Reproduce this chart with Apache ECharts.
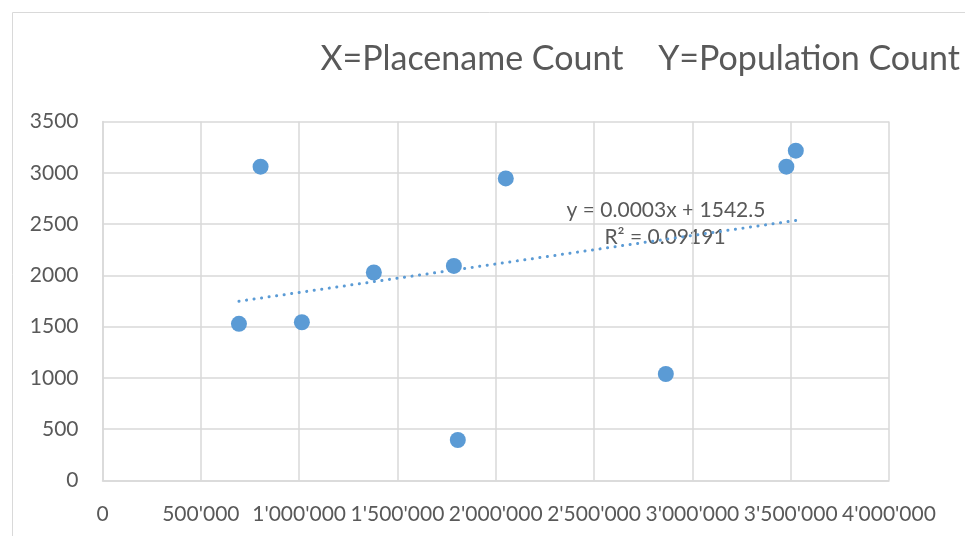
<!DOCTYPE html>
<html>
<head>
<meta charset="utf-8">
<script src="https://cdn.jsdelivr.net/npm/echarts@6/dist/echarts.min.js"></script>
<style>
  html, body { margin: 0; padding: 0; background: #fff; }
  #chart { width: 965px; height: 536px; }
</style>
</head>
<body>
<div id="chart"></div>
<script>
// placename count (x) vs population count (y)
const placenameCount = [694000, 804000, 1014000, 1380000, 1787000, 1807000, 2051000, 2865000, 3478000, 3526000]
const populationCount = [1527, 3060, 1543, 2028, 2092, 395, 2945, 1038, 3060, 3216]
// linear trendline endpoints as drawn
const trendX = [694000, 3526000]
const trendY = [1748, 2535]
const titleText = 'X=Placename Count    Y=Population Count'
const eqText = 'y = 0.0003x + 1542.5'
const r2Text = 'R² = 0.09191'

const grey = '#595959'
const gridColor = '#d9d9d9'
const blue = '#5B9BD5'

function fmtThousands(v) {
  return String(v).replace(/\B(?=(\d{3})+(?!\d))/g, "'")
}

const chart = echarts.init(document.getElementById('chart'))
chart.setOption({
  animation: false,
  textStyle: { fontFamily: 'Lato' },
  grid: { left: 102.5, top: 121.5, right: 76, bottom: 55.5 },
  title: {
    text: titleText,
    right: 0,
    top: 37,
    textStyle: { fontFamily: 'Lato', fontSize: 34, fontWeight: 'normal', color: grey }
  },
  graphic: [
    {
      type: 'rect', silent: true, z: -1,
      shape: { x: 12.5, y: 12.5, width: 1000, height: 600 },
      style: { fill: 'none', stroke: gridColor, lineWidth: 1 }
    },
    {
      type: 'text', x: 666, y: 210,
      style: { text: eqText, fontFamily: 'Lato', fontSize: 21, fill: grey, align: 'center', verticalAlign: 'middle' }
    },
    {
      type: 'text', x: 665, y: 237,
      style: { text: r2Text, fontFamily: 'Lato', fontSize: 21, fill: grey, align: 'center', verticalAlign: 'middle' }
    }
  ],
  xAxis: {
    type: 'value',
    min: 0, max: 4000000, interval: 500000,
    axisLine: { show: true, lineStyle: { color: gridColor, width: 1.5 } },
    axisTick: { show: false },
    splitLine: { show: true, lineStyle: { color: gridColor, width: 1.5 } },
    axisLabel: {
      color: grey, fontSize: 21, margin: 23, hideOverlap: false,
      formatter: fmtThousands
    }
  },
  yAxis: {
    type: 'value',
    min: 0, max: 3500, interval: 500,
    axisLine: { show: true, lineStyle: { color: gridColor, width: 1.5 } },
    axisTick: { show: false },
    splitLine: { show: true, lineStyle: { color: gridColor, width: 1.5 } },
    axisLabel: { color: grey, fontSize: 21, margin: 24, formatter: v => String(v) }
  },
  series: [
    {
      type: 'line',
      data: trendX.map((x, i) => [x, trendY[i]]),
      showSymbol: false,
      symbol: 'none',
      lineStyle: { color: blue, width: 3, type: [0.1, 7.5], cap: 'round' },
      z: 3
    },
    {
      type: 'scatter',
      data: placenameCount.map((x, i) => [x, populationCount[i]]),
      symbolSize: 16,
      itemStyle: { color: blue, opacity: 1 },
      z: 4
    }
  ]
})
</script>
</body>
</html>
